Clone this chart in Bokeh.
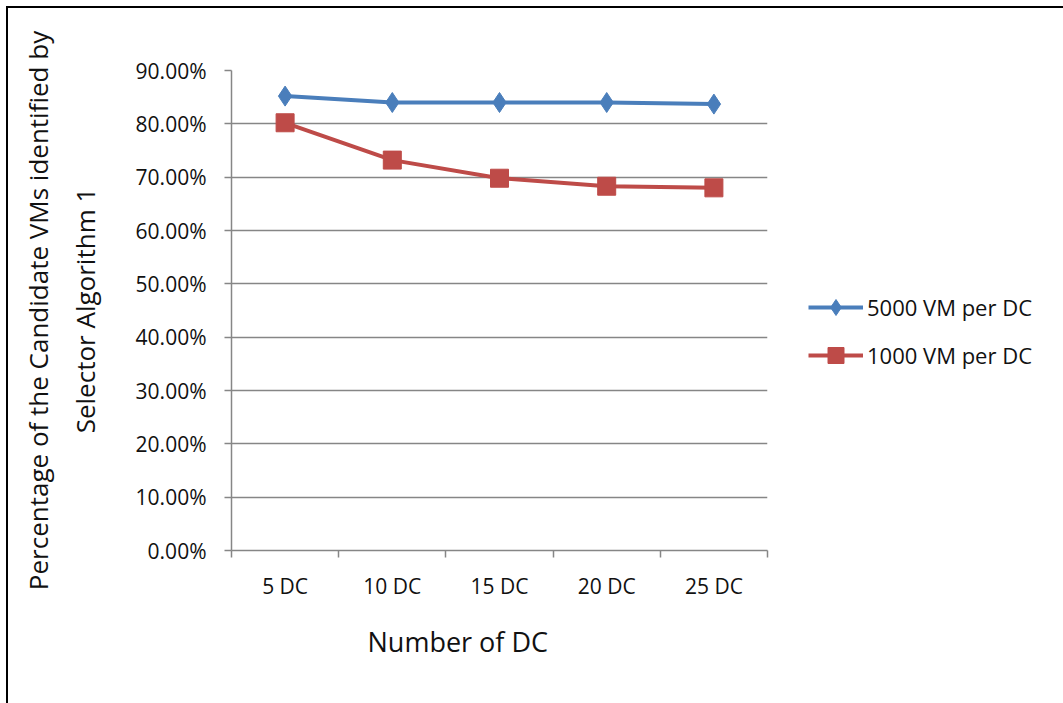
from bokeh.plotting import figure
from bokeh.models import (FixedTicker, NumeralTickFormatter, Legend, LegendItem, Range1d, Title)
from bokeh.embed import file_html
from bokeh.resources import INLINE

categories = ["5 DC", "10 DC", "15 DC", "20 DC", "25 DC"]
vm5000 = [0.852, 0.840, 0.840, 0.840, 0.837]
vm1000 = [0.802, 0.732, 0.698, 0.683, 0.680]
y_ticks = [0.0, 0.1, 0.2, 0.3, 0.4, 0.5, 0.6, 0.7, 0.8, 0.9]

xs = [i + 0.5 for i in range(len(categories))]

FONT = "Open Sans"
BLUE = "#4A7EBB"
RED = "#BE4B48"
GRID = "#868686"
TXT = "#111111"

p = figure(width=1050, height=695, output_backend="svg", toolbar_location=None,
           x_range=Range1d(0, len(categories)), y_range=Range1d(0, 0.9),
           frame_width=536, frame_height=480,
           min_border_left=223, min_border_top=62, min_border_bottom=153,
           min_border_right=290)
p.outline_line_color = None
p.background_fill_color = "white"
p.border_fill_color = "white"
p.styles = {"margin-left": "6px", "margin-top": "6px",
            "border-top": "2px solid #000", "border-left": "2px solid #000"}

# x axis: labels at centers, ticks at category boundaries
p.xaxis.ticker = FixedTicker(ticks=xs, minor_ticks=list(range(len(categories) + 1)))
p.xaxis.major_label_overrides = {x: c for x, c in zip(xs, categories)}
p.xaxis.major_tick_line_color = None
p.xaxis.minor_tick_line_color = GRID
p.xaxis.minor_tick_line_width = 1.5
p.xaxis.minor_tick_out = 7
p.xaxis.minor_tick_in = 0
p.xaxis.axis_line_color = GRID
p.xaxis.axis_line_width = 1.5
p.xaxis.major_label_standoff = 14
p.xaxis.major_label_text_font = FONT
p.xaxis.major_label_text_font_size = "21px"
p.xaxis.major_label_text_color = TXT

xtitle = Title(text="Number of DC", align="left", offset=136, standoff=36,
               text_font=FONT, text_font_size="27px", text_font_style="normal",
               text_color=TXT)
p.add_layout(xtitle, "below")

p.yaxis.ticker = FixedTicker(ticks=y_ticks)
p.yaxis.formatter = NumeralTickFormatter(format="0.00%")
p.yaxis.major_tick_line_color = GRID
p.yaxis.major_tick_line_width = 1.5
p.yaxis.major_tick_out = 7
p.yaxis.major_tick_in = 0
p.yaxis.minor_tick_line_color = None
p.yaxis.axis_line_color = GRID
p.yaxis.axis_line_width = 1.5
p.yaxis.major_label_standoff = 18
p.yaxis.major_label_text_font = FONT
p.yaxis.major_label_text_font_size = "21px"
p.yaxis.major_label_text_color = TXT
p.yaxis.axis_label = "Percentage of the Candidate VMs identified by\nSelector Algorithm 1"
p.yaxis.axis_label_text_font = FONT
p.yaxis.axis_label_text_font_size = "26px"
p.yaxis.axis_label_text_font_style = "normal"
p.yaxis.axis_label_text_color = TXT
p.yaxis.axis_label_text_line_height = 1.3
p.yaxis.axis_label_standoff = 30

p.xgrid.grid_line_color = None
p.ygrid.ticker = FixedTicker(ticks=y_ticks)
p.ygrid.grid_line_color = GRID
p.ygrid.grid_line_width = 1.3

l1 = p.line(xs, vm5000, line_color=BLUE, line_width=4)
s1 = p.scatter(xs, vm5000, marker="diamond", size=20,
               fill_color=BLUE, line_color=BLUE)
l2 = p.line(xs, vm1000, line_color=RED, line_width=4)
s2 = p.scatter(xs, vm1000, marker="square", size=18, fill_color=RED, line_color=RED)

legend = Legend(items=[LegendItem(label="5000 VM per DC", renderers=[l1, s1]),
                       LegendItem(label="1000 VM per DC", renderers=[l2, s2])],
                location=(41, 175), border_line_color=None,
                background_fill_alpha=0,
                label_text_font=FONT, label_text_font_size="22px",
                label_text_color=TXT,
                glyph_width=55, glyph_height=40, spacing=8,
                label_standoff=4, padding=0, margin=0)
p.add_layout(legend, "right")

open("out.html", "w").write(file_html(p, INLINE))
